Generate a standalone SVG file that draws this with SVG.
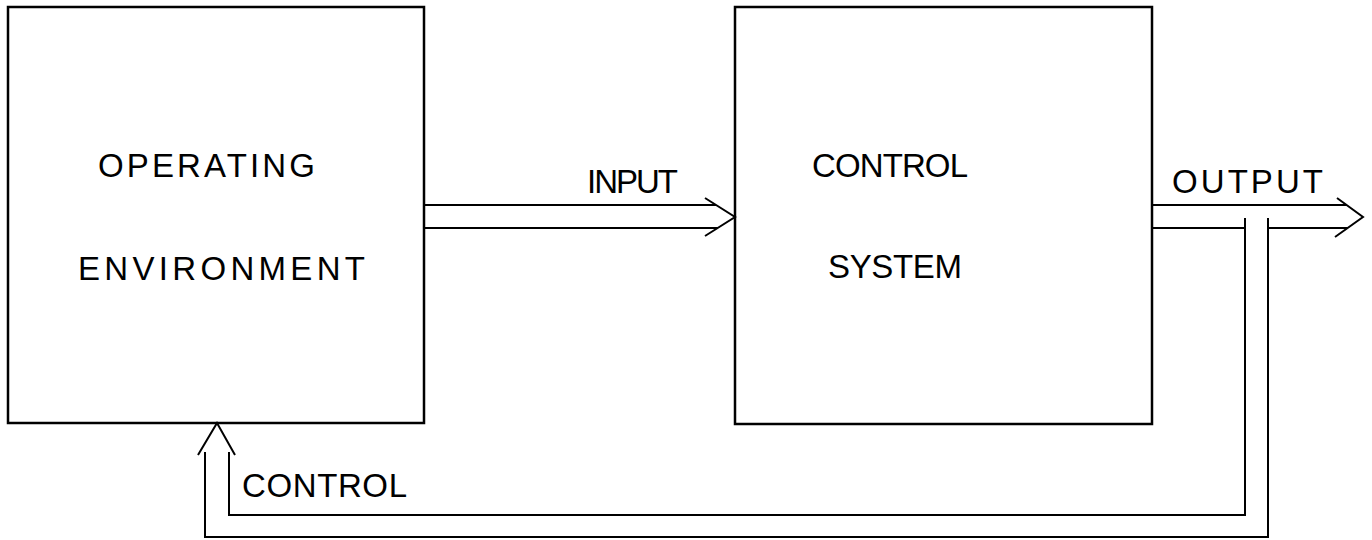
<svg xmlns="http://www.w3.org/2000/svg" width="1372" height="540" viewBox="0 0 1372 540">
<style>
.box{fill:#fff;stroke:#000;stroke-width:2.5}
.ln{fill:none;stroke:#000;stroke-width:2;stroke-linejoin:miter}
.t{font-family:"Liberation Sans",Arial,sans-serif;font-size:33px;fill:#000}
</style>
<rect width="1372" height="540" fill="#fff"/>
<g id="operating-environment">
<rect class="box" x="8" y="7" width="416" height="416"/>
<text class="t" x="98" y="177" textLength="217" lengthAdjust="spacing">OPERATING</text>
<text class="t" x="78" y="280" textLength="287" lengthAdjust="spacing">ENVIRONMENT</text>
</g>
<g id="control-system">
<rect class="box" x="735" y="7" width="417" height="417"/>
<text class="t" x="812" y="177" textLength="156" lengthAdjust="spacing">CONTROL</text>
<text class="t" x="828" y="278" textLength="134" lengthAdjust="spacing">SYSTEM</text>
</g>
<g id="connectors">
<path class="ln" d="M424 205H716M424 228H718"/>
<path class="ln" d="M705 198L735 217L705 236"/>
<path class="ln" d="M1152 205H1347M1152 228H1245M1268 228H1348"/>
<path class="ln" d="M1337 198L1363 217L1335 237"/>
<path class="ln" d="M1245 218V515H229V452"/>
<path class="ln" d="M1268 218V537H205V452"/>
<path class="ln" d="M198 455L217 423L235 455"/>
</g>
<g id="labels">
<text class="t" x="587" y="193" textLength="91" lengthAdjust="spacing">INPUT</text>
<text class="t" x="1172" y="193" textLength="151" lengthAdjust="spacing">OUTPUT</text>
<text class="t" x="242" y="497" textLength="165" lengthAdjust="spacing">CONTROL</text>
</g>
</svg>
